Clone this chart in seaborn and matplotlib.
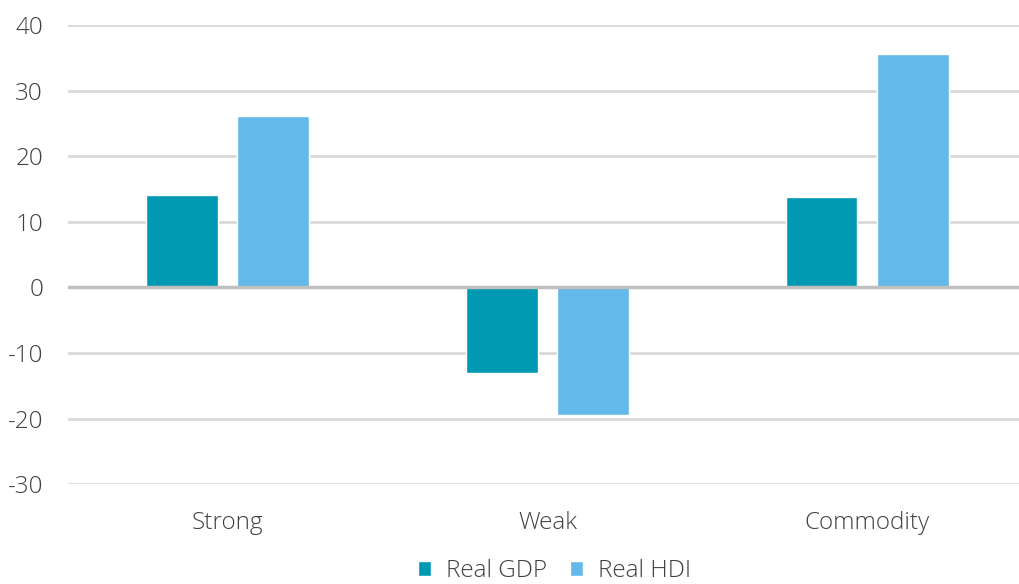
import seaborn as sns
import matplotlib.pyplot as plt
import pandas as pd

# values
categories = ["Strong", "Weak", "Commodity"]
real_gdp = [14.1, -13.0, 13.8]
real_hdi = [26.2, -19.5, 35.6]
series_names = ["Real GDP", "Real HDI"]
y_ticks = [-30, -20, -10, 0, 10, 20, 30, 40]

df = pd.DataFrame({
    "category": categories * 2,
    "series": [series_names[0]] * 3 + [series_names[1]] * 3,
    "value": real_gdp + real_hdi,
})

sns.set_theme(style="white")
plt.rcParams["font.family"] = ["Open Sans", "DejaVu Sans"]

fig = plt.figure(figsize=(10.2, 5.84), dpi=100)
ax = fig.add_axes([0.0667, 0.171, 0.94, 0.786])

palette = {"Real GDP": "#0099b4", "Real HDI": "#63b9e9"}
sns.barplot(data=df, x="category", y="value", hue="series", order=categories,
            hue_order=series_names, palette=palette, width=0.57, gap=0.21,
            saturation=1, ax=ax, legend=True)

ax.set_ylim(-30, 40)
ax.set_xlim(-0.5, 2.5)
ax.set_yticks(y_ticks)
ax.set_yticklabels([str(t) for t in y_ticks])
ax.yaxis.grid(True, color="#d9d9d9", linewidth=2)
ax.set_axisbelow(True)
ax.axhline(0, color="#bfbfbf", linewidth=2.5, zorder=3)
for s in ax.spines.values():
    s.set_visible(False)
ax.tick_params(axis="both", length=0, labelsize=17.5, colors="#404040")
ax.tick_params(axis="y", pad=18)
ax.tick_params(axis="x", pad=19)
for lab in ax.get_xticklabels() + ax.get_yticklabels():
    lab.set_fontweight("light")
ax.set_xlabel("")
ax.set_ylabel("")

leg = ax.legend(loc="center", bbox_to_anchor=(0.507, -0.19), ncol=2, frameon=False,
                handlelength=0.55, handleheight=0.55, handletextpad=0.6,
                columnspacing=0.95, prop={"size": 17.5, "weight": "light"})
for t in leg.get_texts():
    t.set_color("#404040")

fig.savefig("out.png", dpi=100)
